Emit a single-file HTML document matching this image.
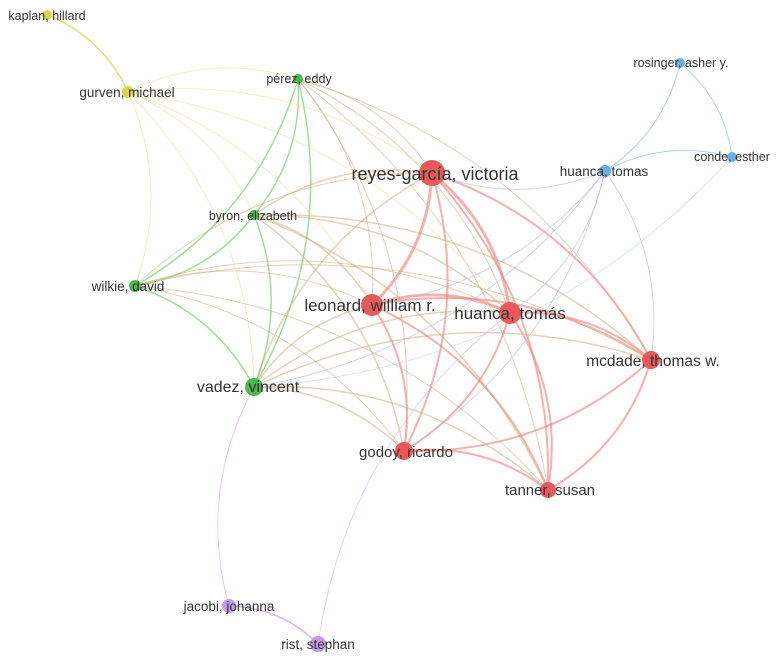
<!DOCTYPE html>
<html><head><meta charset="utf-8"><style>
html,body{margin:0;padding:0;background:#fff;}
svg{display:block;}
text{font-family:"Liberation Sans",sans-serif;fill:#333;text-anchor:middle;}
</style></head><body>
<svg id="s" width="781" height="660" viewBox="0 0 781 660" xmlns="http://www.w3.org/2000/svg">
<g id="edges" fill="none"></g>
<g id="nodes"></g>
<g id="labels">
<text x="47" y="20" font-size="12.5">kaplan, hillard</text>
<text x="127" y="97" font-size="13.5">gurven, michael</text>
<text x="299" y="83" font-size="12.5">pérez, eddy</text>
<text x="253" y="220" font-size="12.5">byron, elizabeth</text>
<text x="128" y="291" font-size="13.5">wilkie, david</text>
<text x="248" y="392" font-size="16">vadez, vincent</text>
<text x="435" y="180" font-size="18">reyes-garcía, victoria</text>
<text x="370" y="311" font-size="17">leonard, william r.</text>
<text x="510" y="319" font-size="17">huanca, tomás</text>
<text x="653" y="366" font-size="15.5">mcdade, thomas w.</text>
<text x="406" y="457" font-size="15">godoy, ricardo</text>
<text x="550" y="495" font-size="15">tanner, susan</text>
<text x="604" y="176" font-size="13.5">huanca, tomas</text>
<text x="681" y="67" font-size="12.5">rosinger, asher y.</text>
<text x="732" y="161" font-size="12.5">conde, esther</text>
<text x="229" y="611" font-size="13.5">jacobi, johanna</text>
<text x="318" y="649" font-size="13.5">rist, stephan</text>
</g>
</svg>
<script>
var N={
kap:[47,15,5,'#d6d84a'],gur:[128,92,6,'#d6d84a'],per:[298,79,5,'#4cb94c'],byr:[254,215,5,'#4cb94c'],
wil:[135,286,6,'#4cb94c'],vad:[254,387,9,'#4cb94c'],rey:[432,173,13,'#e8595a'],leo:[372,305,11,'#e8595a'],
hua:[510,313,11,'#e8595a'],mcd:[651,360,9,'#e8595a'],god:[404,451,9,'#e8595a'],tan:[548,490,8,'#e8595a'],
hub:[605,171,6,'#6aaee6'],ros:[680,63,5,'#6aaee6'],con:[732,157,5,'#6aaee6'],jac:[229,606,7,'#c79ae6'],ris:[318,644,8,'#c79ae6']};
var E=[];
function add(a,b,c,w,o){E.push([a,b,c,w,o]);}
var red=['rey','leo','hua','mcd','god','tan'];
for(var i=0;i<red.length;i++)for(var j=i+1;j<red.length;j++)add(red[i],red[j],'#f07d7a',(i<3&&j<3)?3:2,0.6);
var gr=['per','byr','wil','vad'];
for(i=0;i<gr.length;i++)for(j=i+1;j<gr.length;j++)add(gr[i],gr[j],'#7ccf6c',1.5,0.7);
gr.forEach(function(g){red.forEach(function(r){add(g,r,'#c8a878',g=='vad'||g=='byr'?1.5:1,0.5);});});
add('kap','gur','#dada60',1.5,0.8);
['per','byr','wil','vad','rey','leo','hua'].forEach(function(x){add('gur',x,'#e6e49a',1,0.6);});
add('ros','hub','#9cc6ee',1,0.8);add('ros','con','#9cc6ee',1,0.8);add('hub','con','#9cc6ee',1,0.8);
['rey','leo','hua','mcd','vad','god'].forEach(function(x){add('hub',x,'#b8b8dd',1,0.6);});
add('con','vad','#b8c8e6',1,0.5);
add('jac','ris','#caa6ec',1.5,0.8);add('jac','vad','#d6b6ee',1,0.7);add('ris','hua','#d6b6ee',1,0.6);
var g=document.getElementById('edges'),s='';
E.forEach(function(e){var a=N[e[0]],b=N[e[1]];var mx=(a[0]+b[0])/2,my=(a[1]+b[1])/2,dx=b[0]-a[0],dy=b[1]-a[1];
var cx=mx+dy*0.2,cy=my-dx*0.2;
s+='<path d="M'+a[0]+' '+a[1]+' Q'+cx+' '+cy+' '+b[0]+' '+b[1]+'" stroke="'+e[2]+'" stroke-width="'+e[3]+'" stroke-opacity="'+e[4]+'"/>';});
g.innerHTML=s;
var n='';for(var k in N){var v=N[k];n+='<circle cx="'+v[0]+'" cy="'+v[1]+'" r="'+v[2]+'" fill="'+v[3]+'"/>';}
document.getElementById('nodes').innerHTML=n;
</script>
</body></html>
